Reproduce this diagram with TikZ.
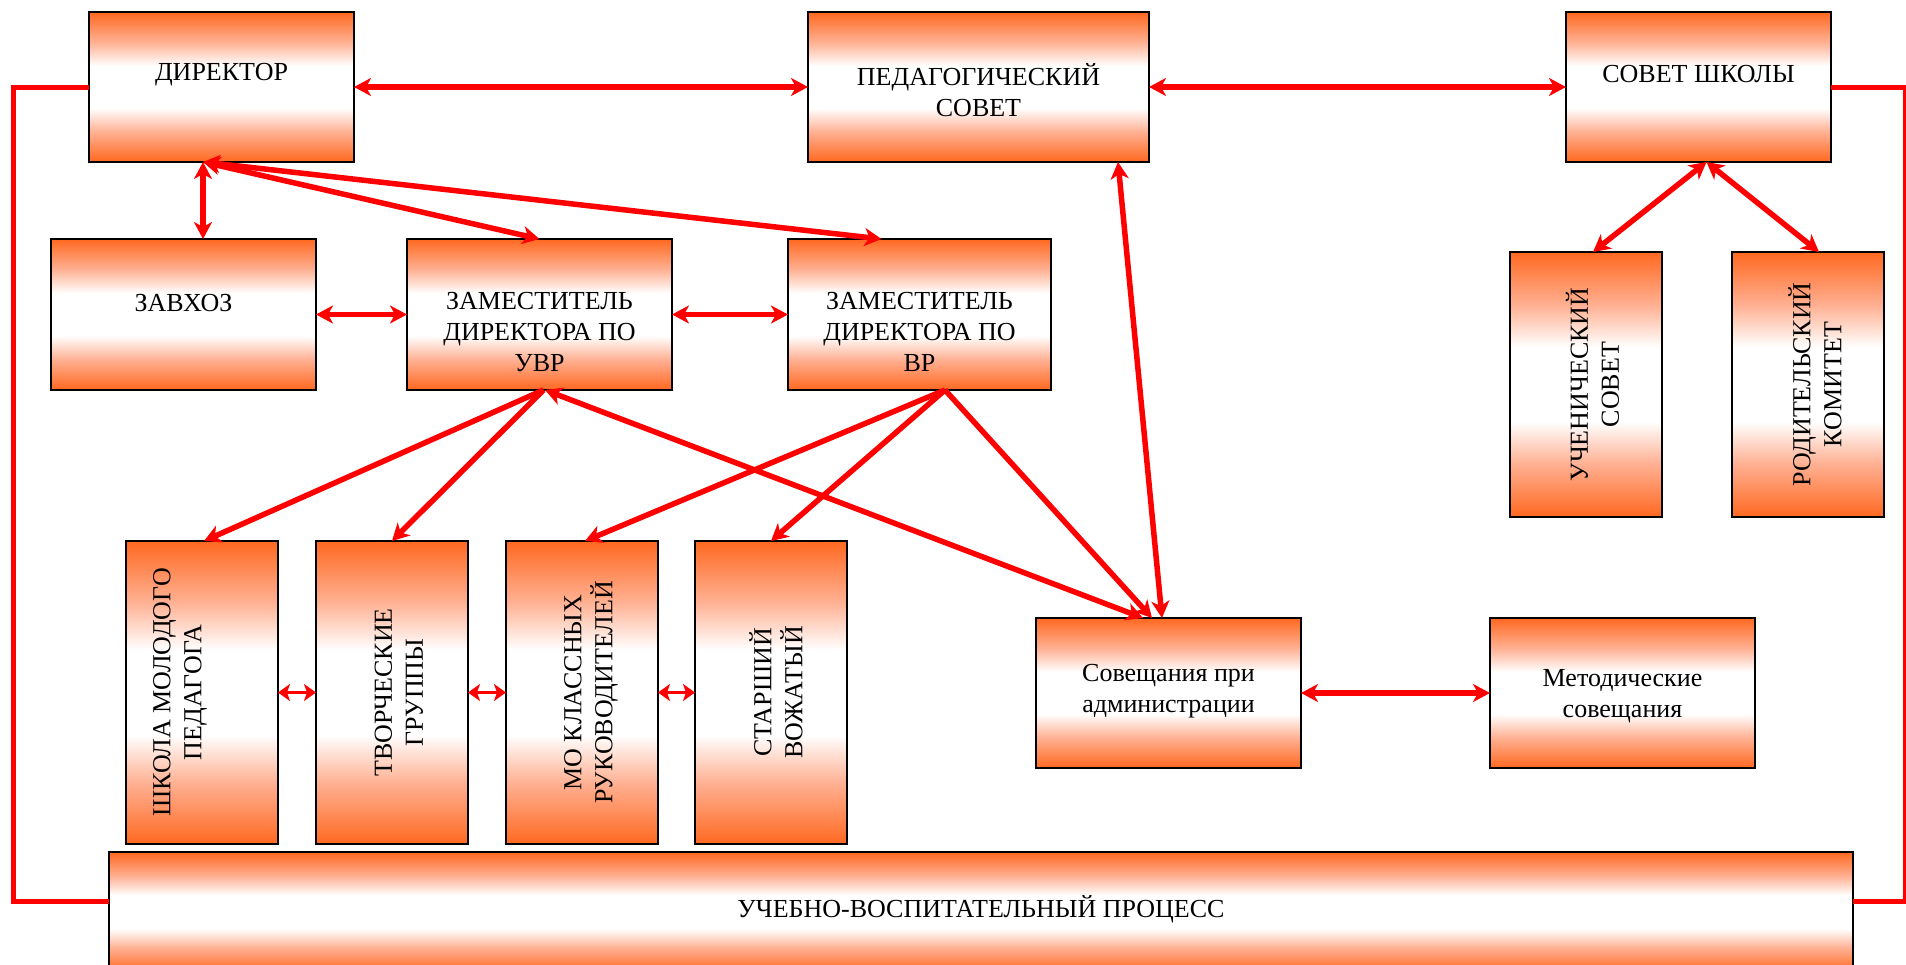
\documentclass[tikz,border=0pt]{standalone}
\usepackage{fontspec}
\setmainfont{Liberation Serif}
\usetikzlibrary{arrows.meta}
\definecolor{orng}{RGB}{255,104,32}
\definecolor{orhalf}{RGB}{255,176,146}
\definecolor{lnred}{RGB}{255,0,0}
\pgfdeclareverticalshading{boxsh}{100bp}{color(0bp)=(orng); color(25bp)=(orng); color(35bp)=(orhalf); color(43bp)=(white); color(57bp)=(white); color(65bp)=(orhalf); color(75bp)=(orng); color(100bp)=(orng)}
\tikzset{
  box/.style={draw=black, line width=2pt, shade, shading=boxsh, inner sep=0pt, outer sep=0pt},
  txt/.style={font=\fontsize{26}{31}\selectfont, align=center, inner sep=0pt},
  vtxt/.style={txt, rotate=90},
  myhd/.tip={Stealth[length=17pt,width=18pt,inset=5pt]},
  smhd/.tip={Stealth[length=12pt,width=17pt,inset=3pt]},
  conn/.style={draw=lnred, line width=5.5pt},
  dbl/.style={conn, myhd-myhd},
  oneway/.style={conn, -myhd},
  sdbl/.style={draw=lnred, line width=3pt, smhd-smhd},
  frameline/.style={draw=lnred, line width=5pt, line join=miter}
}
\begin{document}
\begin{tikzpicture}[x=1pt,y=-1pt]
\useasboundingbox (0,0) rectangle (1906,964);
\fill[white] (0,0) rectangle (1906,964);
% boxes
\node[box, minimum width=265pt, minimum height=150pt] (dir) at (221.5,87) {};
\node[box, minimum width=341pt, minimum height=150pt] (ped) at (978.5,87) {};
\node[box, minimum width=265pt, minimum height=150pt] (sovet) at (1698.5,87) {};
\node[box, minimum width=265pt, minimum height=151pt] (zavhoz) at (183.5,314.5) {};
\node[box, minimum width=265pt, minimum height=151pt] (uvr) at (539.5,314.5) {};
\node[box, minimum width=263pt, minimum height=151pt] (vr) at (919.5,314.5) {};
\node[box, minimum width=152pt, minimum height=265pt] (uch) at (1586,384.5) {};
\node[box, minimum width=152pt, minimum height=265pt] (rod) at (1808,384.5) {};
\node[box, minimum width=152pt, minimum height=303pt] (shk) at (202,692.5) {};
\node[box, minimum width=152pt, minimum height=303pt] (tvor) at (392,692.5) {};
\node[box, minimum width=152pt, minimum height=303pt] (mo) at (582,692.5) {};
\node[box, minimum width=152pt, minimum height=303pt] (star) at (771,692.5) {};
\node[box, minimum width=265pt, minimum height=150pt] (sovad) at (1168.5,693) {};
\node[box, minimum width=265pt, minimum height=150pt] (met) at (1622.5,693) {};
\node[box, minimum width=1744pt, minimum height=120pt] (uvp) at (981,912) {};
% texts
\node[txt] (dirT) at ([yshift=12pt]dir.center) {ДИРЕКТОР};
\node[txt] (pedT) at ([yshift=-3pt]ped.center) {ПЕДАГОГИЧЕСКИЙ\\СОВЕТ};
\node[txt] (sovetT) at ([yshift=13pt]sovet.center) {СОВЕТ ШКОЛЫ};
\node[txt] (zavhozT) at ([yshift=11.5pt]zavhoz.center) {ЗАВХОЗ};
\node[txt] (uvrT) at ([yshift=-17.5pt]uvr.center) {ЗАМЕСТИТЕЛЬ\\ДИРЕКТОРА ПО\\УВР};
\node[txt] (vrT) at ([yshift=-17.5pt]vr.center) {ЗАМЕСТИТЕЛЬ\\ДИРЕКТОРА ПО\\ВР};
\node[vtxt] (uchT) at ([xshift=6.5pt]uch.center) {УЧЕНИЧЕСКИЙ\\СОВЕТ};
\node[vtxt] (rodT) at ([xshift=7pt]rod.center) {РОДИТЕЛЬСКИЙ\\КОМИТЕТ};
\node[vtxt] (shkT) at ([xshift=-22pt]shk.center) {ШКОЛА МОЛОДОГО\\ПЕДАГОГА};
\node[vtxt] (tvorT) at ([xshift=7pt]tvor.center) {ТВОРЧЕСКИЕ\\ГРУППЫ};
\node[vtxt] (moT) at ([xshift=9pt]mo.center) {МО КЛАССНЫХ\\РУКОВОДИТЕЛЕЙ};
\node[vtxt] (starT) at ([xshift=5pt]star.center) {СТАРШИЙ\\ВОЖАТЫЙ};
\node[txt] (sovadT) at ([yshift=2pt]sovad.center) {Совещания при\\администрации};
\node[txt] (metT) at ([yshift=-3.5pt]met.center) {Методические\\совещания};
\node[txt] (uvpT) at ([yshift=3pt]uvp.center) {УЧЕБНО-ВОСПИТАТЕЛЬНЫЙ ПРОЦЕСС};
% frame lines
\coordinate (lb) at (13,901);
\coordinate (rb) at (1905,901);
\draw[frameline] (dir.west) -| (lb) -- (lb -| uvp.west);
\draw[frameline] (sovet.east) -| (rb) -- (rb -| uvp.east);
% connectors
\draw[dbl] (dir.east) -- (ped.west);
\draw[dbl] (ped.east) -- (sovet.west);
\draw[dbl] ([xshift=-18.5pt]dir.south) -- ([xshift=19.5pt]zavhoz.north);
\draw[dbl] ([xshift=-18.5pt]dir.south) -- (uvr.north);
\draw[dbl] ([xshift=-18.5pt]dir.south) -- ([xshift=-38pt]vr.north);
\draw[dbl] (zavhoz.east) -- (uvr.west);
\draw[dbl] (uvr.east) -- (vr.west);
\draw[dbl] ([xshift=8pt]sovet.south) -- ([xshift=7pt]uch.north);
\draw[dbl] ([xshift=8pt]sovet.south) -- ([xshift=11pt]rod.north);
\draw[dbl] ([xshift=139.5pt]ped.south) -- ([xshift=-6.5pt]sovad.north);
\draw[dbl] ([xshift=5.5pt]uvr.south) -- ([xshift=-25.5pt]sovad.north);
\draw[oneway] ([xshift=4pt]uvr.south) -- ([xshift=2pt]shk.north);
\draw[oneway] ([xshift=4pt]uvr.south) -- (tvor.north);
\draw[oneway] ([xshift=25.5pt]vr.south) -- ([xshift=3pt]mo.north);
\draw[oneway] ([xshift=25.5pt]vr.south) -- (star.north);
\draw[oneway] ([xshift=25.5pt]vr.south) -- ([xshift=-16.5pt]sovad.north);
\draw[sdbl] (shk.east) -- (tvor.west);
\draw[sdbl] (tvor.east) -- (mo.west);
\draw[sdbl] (mo.east) -- (star.west);
\draw[dbl] (sovad.east) -- (met.west);
\end{tikzpicture}
\end{document}
